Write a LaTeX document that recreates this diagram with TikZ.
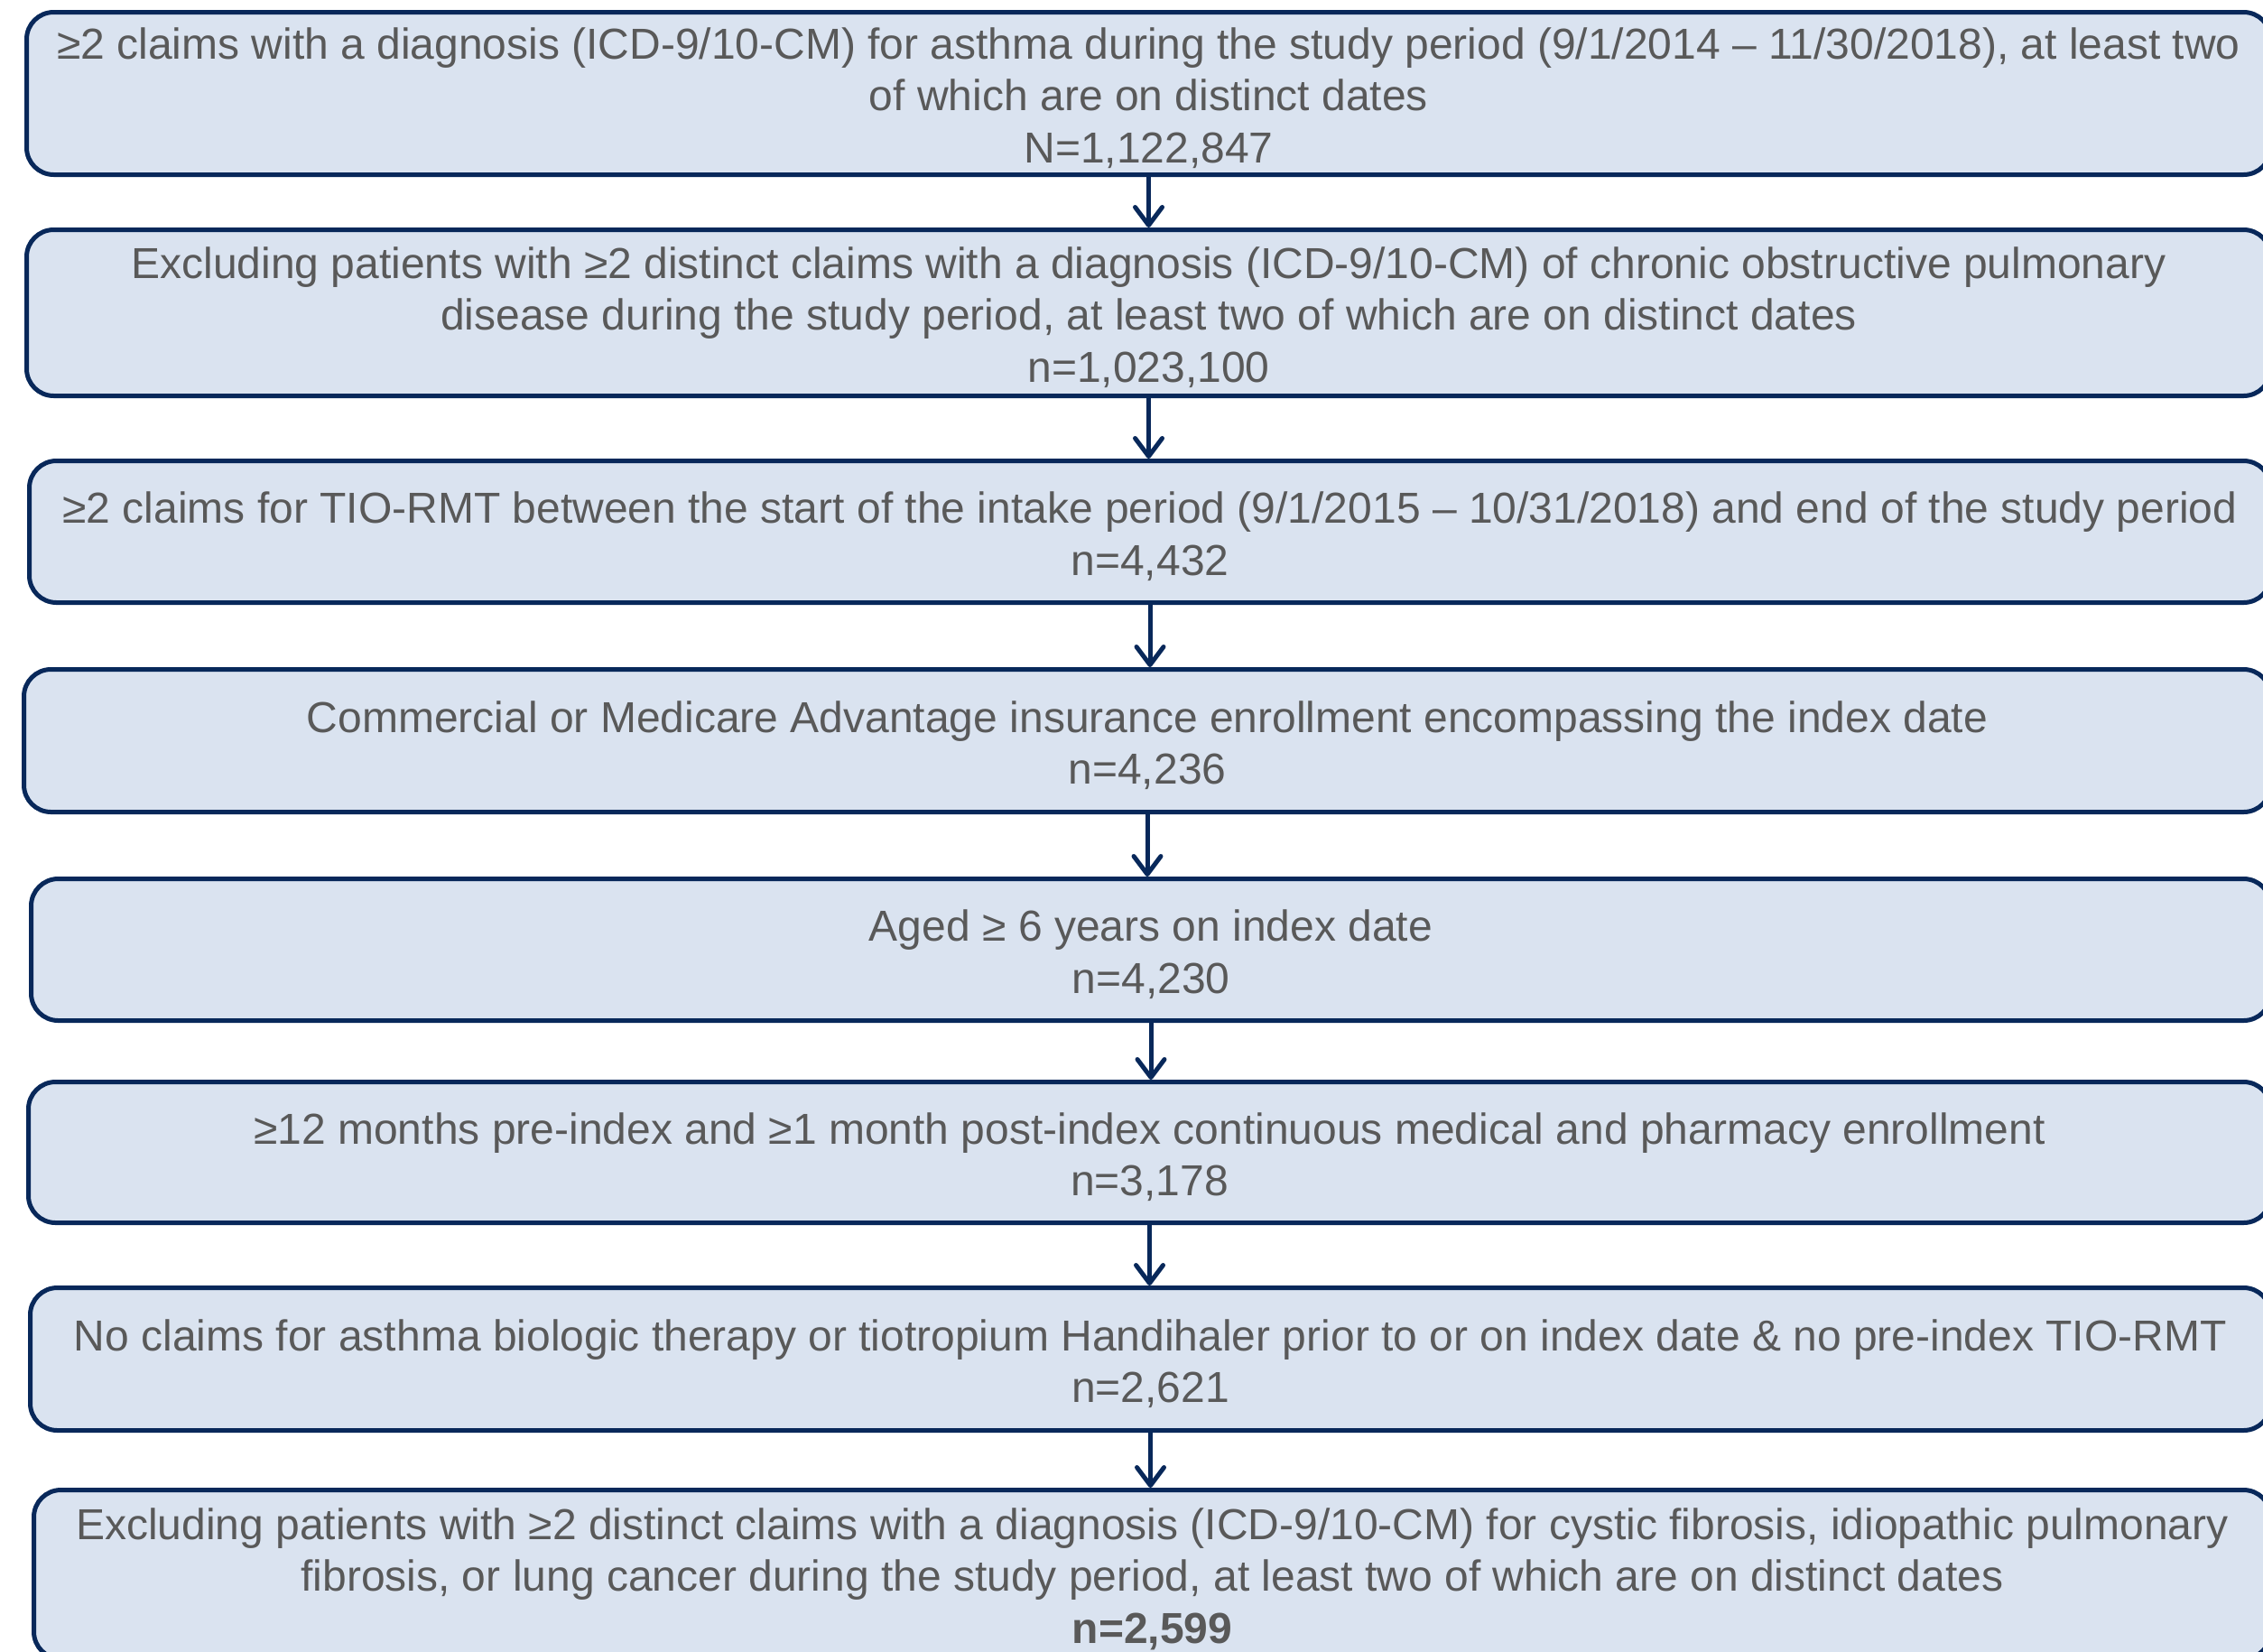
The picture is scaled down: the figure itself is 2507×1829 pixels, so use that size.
\documentclass[tikz,border=0pt]{standalone}
\usepackage{fontspec}
\setmainfont{Liberation Sans}
\usetikzlibrary{arrows.meta}
\definecolor{boxfill}{RGB}{218,227,240}
\definecolor{boxline}{RGB}{8,40,90}
\definecolor{txtgray}{RGB}{89,89,89}
\tikzset{
  flowbox/.style={draw=boxline, fill=boxfill, line width=5pt, rounded corners=30pt,
    rectangle, inner sep=0pt},
  flowtext/.style={align=center, text=txtgray, inner sep=0pt, yshift=-5pt,
    font=\fontsize{48}{57.6}\selectfont},
  flowarrow/.style={draw=boxline, line width=5pt,
    -{Straight Barb[length=20pt,width=30pt,line cap=round,line join=round]}}
}
\begin{document}
\begin{tikzpicture}[x=1pt,y=-1pt]
\useasboundingbox (0,0) rectangle (2507,1829);
\node[flowbox, minimum width=2486pt, minimum height=180pt] (b1) at (1272.5,103.5) {};
\node[flowbox, minimum width=2486pt, minimum height=184pt] (b2) at (1272.5,346.5) {};
\node[flowbox, minimum width=2483pt, minimum height=157pt] (b3) at (1274,589) {};
\node[flowbox, minimum width=2489pt, minimum height=158pt] (b4) at (1271,820.5) {};
\node[flowbox, minimum width=2481pt, minimum height=157pt] (b5) at (1275,1052) {};
\node[flowbox, minimum width=2484pt, minimum height=156pt] (b6) at (1273.5,1276.5) {};
\node[flowbox, minimum width=2482pt, minimum height=158pt] (b7) at (1274.5,1505.5) {};
\node[flowbox, minimum width=2478pt, minimum height=187pt] (b8) at (1276.5,1744) {};
\node[flowtext] (t1) at (b1.center)
  {≥2 claims with a diagnosis (ICD-9/10-CM) for asthma during the study period (9/1/2014 – 11/30/2018), at least two\\ of which are on distinct dates\\ N=1,122,847};
\node[flowtext] (t2) at (b2.center)
  {Excluding patients with ≥2 distinct claims with a diagnosis (ICD-9/10-CM) of chronic obstructive pulmonary\\ disease during the study period, at least two of which are on distinct dates\\ n=1,023,100};
\node[flowtext] (t3) at (b3.center)
  {≥2 claims for TIO-RMT between the start of the intake period (9/1/2015 – 10/31/2018) and end of the study period\\ n=4,432};
\node[flowtext] (t4) at (b4.center)
  {Commercial or Medicare Advantage insurance enrollment encompassing the index date\\ n=4,236};
\node[flowtext] (t5) at (b5.center)
  {Aged ≥ 6 years on index date\\ n=4,230};
\node[flowtext] (t6) at (b6.center)
  {≥12 months pre-index and ≥1 month post-index continuous medical and pharmacy enrollment\\ n=3,178};
\node[flowtext] (t7) at (b7.center)
  {No claims for asthma biologic therapy or tiotropium Handihaler prior to or on index date \& no pre-index TIO-RMT\\ n=2,621};
\node[flowtext] (t8) at (b8.center)
  {Excluding patients with ≥2 distinct claims with a diagnosis (ICD-9/10-CM) for cystic fibrosis, idiopathic pulmonary\\ fibrosis, or lung cancer during the study period, at least two of which are on distinct dates\\ \textbf{n=2,599}};
\draw[flowarrow] (b1.south) -- (b1.south |- b2.north);
\draw[flowarrow] (b2.south) -- (b2.south |- b3.north);
\draw[flowarrow] (b3.south) -- (b3.south |- b4.north);
\draw[flowarrow] (b4.south) -- (b4.south |- b5.north);
\draw[flowarrow] (b5.south) -- (b5.south |- b6.north);
\draw[flowarrow] (b6.south) -- (b6.south |- b7.north);
\draw[flowarrow] (b7.south) -- (b7.south |- b8.north);
\end{tikzpicture}
\end{document}
